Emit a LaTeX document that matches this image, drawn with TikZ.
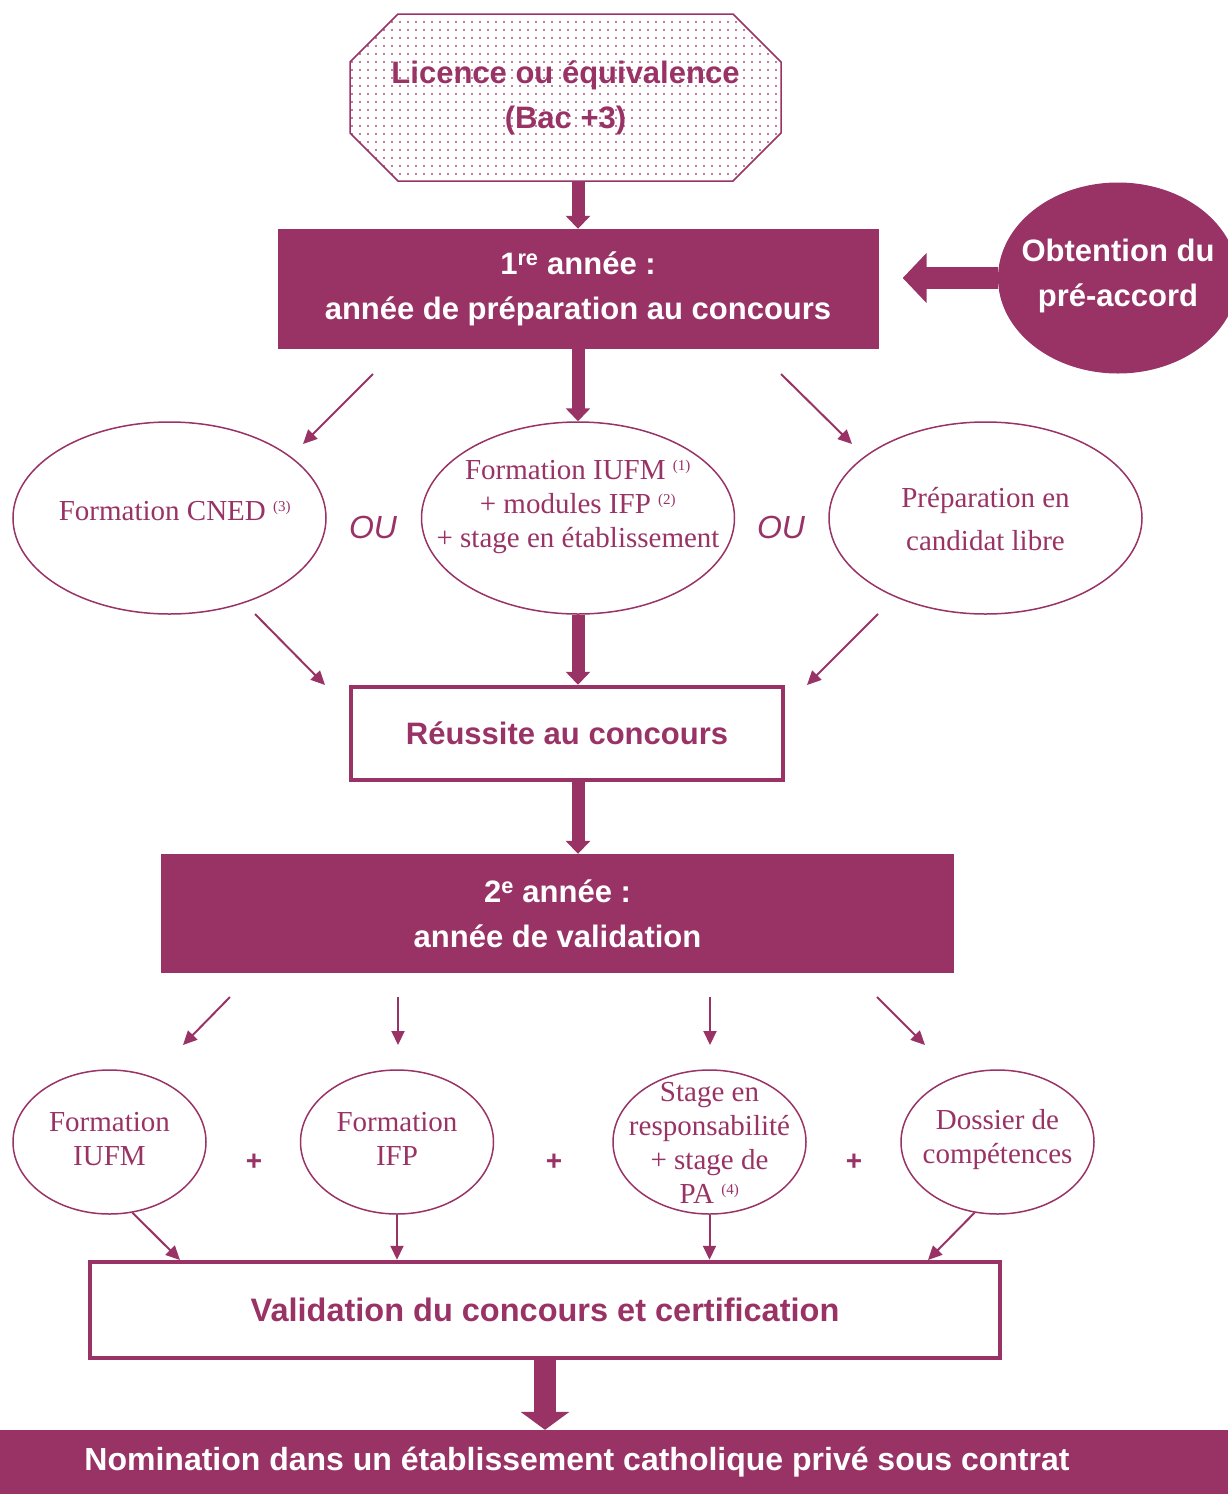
\documentclass[tikz,border=0pt]{standalone}
\usepackage{fontspec}
\setmainfont{Liberation Serif}
\setsansfont{Liberation Sans}
\usetikzlibrary{shapes.geometric,arrows.meta,patterns.meta}
\definecolor{prune}{HTML}{993366}
\newcommand\renvoi[1]{\textsuperscript{\fontsize{15}{15}\selectfont(#1)}}

\begin{document}
\begin{tikzpicture}[x=1pt,y=-1pt,
  titre/.style={font=\sffamily\bfseries\fontsize{31}{45}\selectfont, align=center},
  bandeau/.style={fill=prune, text=white, inner sep=0pt, titre},
  cadre/.style={draw=prune, line width=4.5pt, inner sep=0pt, text=prune, titre},
  bulle/.style={ellipse, draw=prune, line width=1.5pt, inner sep=0pt},
  texte/.style={font=\fontsize{29}{34}\selectfont, text=prune, align=center},
  ou/.style={font=\sffamily\itshape\fontsize{32}{36}\selectfont, text=prune},
  plus/.style={font=\sffamily\bfseries\fontsize{28}{28}\selectfont, text=prune},
  fleche/.style={draw=prune, line width=2pt, -{Triangle[width=13pt,length=14pt]}},
  grosse/.style={draw=prune, line width=13pt, -{Triangle[width=24pt,length=13pt]}},
  ]
\useasboundingbox (0,0) rectangle (1228,1494);

\draw[prune, line width=1.5pt, pattern={Dots[distance=8pt,radius=1.1pt]}, pattern color=prune!85]
  (398,14) -- (733,14) -- (781,62) -- (781,133) -- (733,181) -- (398,181) -- (350,133) -- (350,62) -- cycle;
\node[minimum width=431pt, minimum height=167pt, inner sep=0pt, text=prune, titre]
  (licence) at (565.5,97.5) {Licence ou équivalence\\(Bac +3)};

\node[bandeau, minimum width=601pt, minimum height=120pt] (annee1) at (578,289)
  {1\textsuperscript{re} année :\\année de préparation au concours};
\node[ellipse, fill=prune, minimum width=240pt, minimum height=191pt] (preaccord) at (1118,278) {};
\node[bandeau] (preaccordtxt) at (1118,276) {Obtention du\\pré-accord};

\node[bulle, minimum width=313pt, minimum height=192pt] (cned) at (169.5,518) {};
\node[texte] (cnedtxt) at (175,511) {Formation CNED \renvoi{3}};
\node[bulle, minimum width=313pt, minimum height=192pt] (iufm) at (578,518) {};
\node[texte] (iufmtxt) at (578,507) {Formation IUFM \renvoi{1}\\+ modules IFP \renvoi{2}\\+ stage en établissement};
\node[bulle, minimum width=313pt, minimum height=192pt] (libre) at (985.5,518) {};
\node[texte, font=\fontsize{29}{43}\selectfont] (libretxt) at (985.5,519) {Préparation en\\candidat libre};
\node[ou] (ou1) at (373,527) {OU};
\node[ou] (ou2) at (781,527) {OU};

\node[cadre, minimum width=432pt, minimum height=93pt] (reussite) at (567,733.5) {Réussite au concours};

\node[bandeau, minimum width=793pt, minimum height=119pt] (annee2) at (557.5,913.5)
  {2\textsuperscript{e} année :\\année de validation};

\node[bulle, minimum width=193pt, minimum height=144pt] (fiufm) at (109.5,1142) {};
\node[texte] (fiufmtxt) at (109.5,1139) {Formation\\IUFM};
\node[bulle, minimum width=193pt, minimum height=144pt] (fifp) at (397,1142) {};
\node[texte] (fifptxt) at (397,1139) {Formation\\IFP};
\node[bulle, minimum width=193pt, minimum height=144pt] (stage) at (709.5,1142) {};
\node[texte] (stagetxt) at (709.5,1143) {Stage en\\responsabilité\\+ stage de\\PA \renvoi{4}};
\node[bulle, minimum width=193pt, minimum height=144pt] (dossier) at (997.5,1142) {};
\node[texte] (dossiertxt) at (997.5,1140) {Dossier de\\compétences};
\node[plus] (plus1) at (254,1162) {+};
\node[plus] (plus2) at (554,1162) {+};
\node[plus] (plus3) at (854,1162) {+};

\node[cadre, minimum width=910pt, minimum height=96pt, font=\sffamily\bfseries\fontsize{32.5}{45}\selectfont]
  (valid) at (545,1310) {Validation du concours et certification};

\node[bandeau, minimum width=1302pt, minimum height=64pt, font=\sffamily\bfseries\fontsize{32}{45}\selectfont]
  (nomination) at (577,1462) {Nomination dans un établissement catholique privé sous contrat};

\coordinate (h1) at (373,374);
\coordinate (h2) at (303,444);
\coordinate (h3) at (781,374);
\coordinate (h4) at (852,444);
\coordinate (m1) at (255,614);
\coordinate (m2) at (325,685);
\coordinate (m3) at (878,614);
\coordinate (m4) at (807,685);
\coordinate (b1) at (230,997);
\coordinate (b2) at (183,1045);
\coordinate (b3) at (398,997);
\coordinate (b4) at (398,1045);
\coordinate (b5) at (710,997);
\coordinate (b6) at (710,1045);
\coordinate (b7) at (877,997);
\coordinate (b8) at (925,1045);
\coordinate (v1) at (180,1260);
\coordinate (v4) at (928,1260);

\draw[grosse] (licence.south -| annee1.north) -- (annee1.north);
\draw[draw=prune, line width=22pt, -{Triangle[width=49pt,length=24pt]}, shorten >=24pt]
  (preaccord.west) -- (preaccord.west -| annee1.east);
\draw[fleche] (h1) -- (h2);
\draw[fleche] (h3) -- (h4);
\draw[grosse] (annee1.south) -- (iufm.north);
\draw[fleche] (m1) -- (m2);
\draw[fleche] (m3) -- (m4);
\draw[grosse] (iufm.south) -- (iufm.south |- reussite.north);
\draw[grosse] (reussite.south -| iufm.south) -- (annee2.north -| iufm.south);
\draw[fleche] (b1) -- (b2);
\draw[fleche] (b3) -- (b4);
\draw[fleche] (b5) -- (b6);
\draw[fleche] (b7) -- (b8);
\draw[fleche] (fiufm.-72) -- (v1);
\draw[fleche] (fifp.south) -- (fifp.south |- valid.north);
\draw[fleche] (stage.south) -- (stage.south |- valid.north);
\draw[fleche] (dossier.-108) -- (v4);
\draw[draw=prune, line width=22pt, -{Triangle[width=48pt,length=18pt]}]
  (valid.south) -- (valid.south |- nomination.north);

\end{tikzpicture}
\end{document}
